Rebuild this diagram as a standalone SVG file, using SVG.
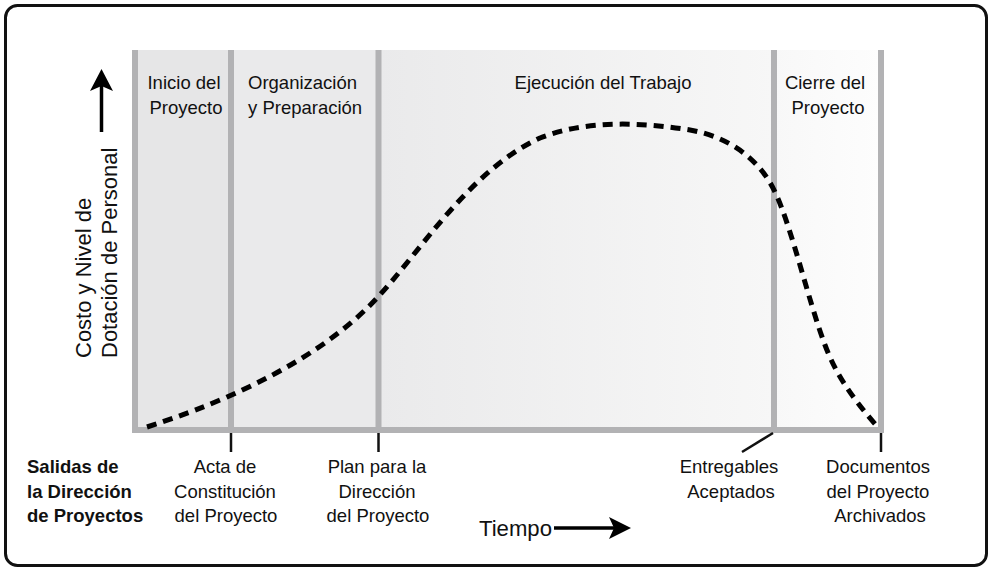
<svg xmlns="http://www.w3.org/2000/svg" width="994" height="573" viewBox="0 0 994 573">
  <defs>
    <linearGradient id="gExec" x1="0" y1="0" x2="1" y2="0">
      <stop offset="0" stop-color="#eaeaeb"/>
      <stop offset="1" stop-color="#f7f7f7"/>
    </linearGradient>
    <linearGradient id="gClose" x1="0" y1="0" x2="1" y2="0">
      <stop offset="0" stop-color="#f8f8f8"/>
      <stop offset="1" stop-color="#fdfdfd"/>
    </linearGradient>
    <style>
      .lbl { font-family: "Liberation Sans", Arial, sans-serif; font-size: 18.5px; fill: #111; }
      .bold { font-weight: bold; }
      .ax { font-family: "Liberation Sans", Arial, sans-serif; font-size: 22px; fill: #111; }
      .bar { fill: #b2b2b4; }
      .tick { stroke: #111; stroke-width: 2.5; fill: none; }
      .curve { stroke: #000; stroke-width: 5; stroke-dasharray: 10 7; fill: none; }
      .arrow { stroke: #000; stroke-width: 3.5; fill: none; }
    </style>
  </defs>

  <rect x="0" y="0" width="994" height="573" fill="#ffffff"/>
  <rect id="frame" x="5.5" y="5.5" width="981" height="560" rx="12" ry="12" fill="#ffffff" stroke="#111" stroke-width="3"/>

  <g id="chart">
    <rect x="135" y="50" width="96" height="380" fill="#e6e6e7"/>
    <rect x="231" y="50" width="147" height="380" fill="#eaeaeb"/>
    <rect x="378" y="50" width="396" height="380" fill="url(#gExec)"/>
    <rect x="774" y="50" width="107" height="380" fill="url(#gClose)"/>
    <rect class="bar" x="132" y="50" width="6" height="383"/>
    <rect class="bar" x="228" y="50" width="6" height="383"/>
    <rect class="bar" x="375.5" y="50" width="6" height="383"/>
    <rect class="bar" x="771" y="50" width="6" height="383"/>
    <rect class="bar" x="878" y="50" width="6" height="383"/>
    <rect class="bar" x="132" y="427" width="752" height="6"/>
  </g>

  <g id="curve">
    <path class="curve" d="M147,427 C200,410 310,370 377,298 C420,252 470,170 540,138 C585,120 640,122 690,130 C730,137 760,160 775,192 C792,228 808,300 825,345 C835,372 850,395 875,424"/>
  </g>

  <g id="phase-inicio">
    <text class="lbl" x="184" y="89" text-anchor="middle">Inicio del</text>
    <text class="lbl" x="186" y="114" text-anchor="middle">Proyecto</text>
  </g>
  <g id="phase-organizacion">
    <text class="lbl" x="248" y="89">Organización</text>
    <text class="lbl" x="248" y="114">y Preparación</text>
  </g>
  <g id="phase-ejecucion">
    <text class="lbl" x="603" y="89" text-anchor="middle">Ejecución del Trabajo</text>
  </g>
  <g id="phase-cierre">
    <text class="lbl" x="825" y="89" text-anchor="middle">Cierre del</text>
    <text class="lbl" x="828" y="114" text-anchor="middle">Proyecto</text>
  </g>

  <g id="y-axis">
    <line class="arrow" x1="101.5" y1="86" x2="101.5" y2="132"/>
    <polygon points="101.5,69 113,91 101.5,86 90,91" fill="#000"/>
    <text class="ax" transform="translate(91,358) rotate(-90)">Costo y Nivel de</text>
    <text class="ax" transform="translate(117,358) rotate(-90)">Dotación de Personal</text>
  </g>

  <g id="x-axis">
    <text class="ax" x="479" y="536" font-size="24" textLength="73" lengthAdjust="spacingAndGlyphs">Tiempo</text>
    <line class="arrow" x1="554" y1="528" x2="614" y2="528"/>
    <polygon points="631,528 609,517 614,528 609,539" fill="#000"/>
  </g>

  <g id="connectors">
    <line class="tick" x1="231" y1="433" x2="231" y2="452"/>
    <line class="tick" x1="378.5" y1="433" x2="378.5" y2="452"/>
    <line class="tick" x1="773" y1="433" x2="742" y2="452"/>
    <line class="tick" x1="881" y1="433" x2="881" y2="452"/>
  </g>

  <g id="outputs-title">
    <text class="lbl bold" x="27" y="473">Salidas de</text>
    <text class="lbl bold" x="27" y="498">la Dirección</text>
    <text class="lbl bold" x="27" y="522">de Proyectos</text>
  </g>
  <g id="out-acta">
    <text class="lbl" x="225" y="473" text-anchor="middle">Acta de</text>
    <text class="lbl" x="225" y="498" text-anchor="middle">Constitución</text>
    <text class="lbl" x="226" y="522" text-anchor="middle">del Proyecto</text>
  </g>
  <g id="out-plan">
    <text class="lbl" x="377" y="473" text-anchor="middle">Plan para la</text>
    <text class="lbl" x="377" y="498" text-anchor="middle">Dirección</text>
    <text class="lbl" x="378" y="522" text-anchor="middle">del Proyecto</text>
  </g>
  <g id="out-entregables">
    <text class="lbl" x="729" y="473" text-anchor="middle">Entregables</text>
    <text class="lbl" x="731" y="498" text-anchor="middle">Aceptados</text>
  </g>
  <g id="out-documentos">
    <text class="lbl" x="878" y="473" text-anchor="middle">Documentos</text>
    <text class="lbl" x="878" y="498" text-anchor="middle">del Proyecto</text>
    <text class="lbl" x="880" y="522" text-anchor="middle">Archivados</text>
  </g>
</svg>
